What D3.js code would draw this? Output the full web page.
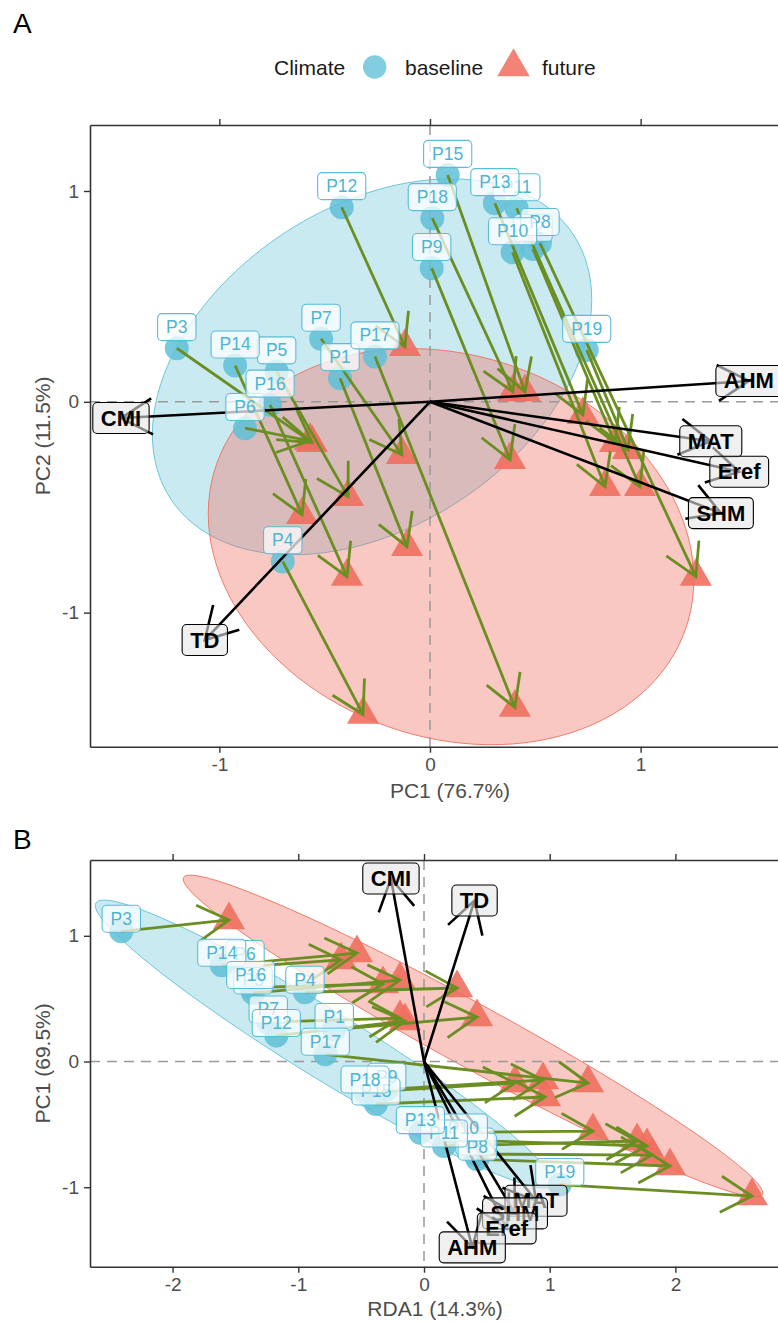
<!DOCTYPE html>
<html>
<head>
<meta charset="utf-8">
<script src="https://cdn.jsdelivr.net/npm/d3@7"></script>
<style>
body { margin: 0; background: #fff; }
text { font-family: "Liberation Sans", Arial, sans-serif; }
</style>
</head>
<body>
<svg id="fig" width="778" height="1323"></svg>
<script>
// site names, same order in both panels
const sites = ["P1","P2","P3","P4","P5","P6","P7","P8","P9","P10",
               "P11","P12","P13","P14","P15","P16","P17","P18","P19"];
const climates = ["baseline", "future"];

// panel A : PCA scores
const pcaBaseX = [-0.427,0.489,-1.202,-0.699,-0.728,-0.878,-0.517,0.522,0.008,0.392,0.411,-0.419,0.308,-0.925,0.084,-0.759,-0.261,0.011,0.744];
const pcaBaseY = [0.112,0.725,0.254,-0.757,0.144,-0.125,0.299,0.753,0.634,0.709,0.918,0.923,0.942,0.172,1.076,-0.014,0.215,0.871,0.246];
const pcaFutX  = [-0.109,0.878,-0.560,-0.318,-0.389,-0.570,-0.133,1.262,0.380,0.831,0.997,-0.119,0.726,-0.607,0.451,-0.394,0.403,0.394,0.940];
const pcaFutY  = [-0.687,-0.194,-0.194,-1.483,-0.450,-0.185,-0.251,-0.829,-0.275,-0.403,-0.403,0.261,-0.062,-0.536,0.047,-0.829,-1.450,0.047,-0.227];
// panel A : loadings
const pcaVars  = ["MAT","SHM","Eref","AHM","CMI","TD"];
const pcaLoadX = [1.333,1.381,1.468,1.514,-1.467,-1.069];
const pcaLoadY = [-0.187,-0.528,-0.332,0.099,-0.077,-1.130];
// panel A : 95% ellipses (baseline, future)
const pcaEllCx = [-0.275,0.100], pcaEllCy = [0.166,-0.687];
const pcaEllA  = [1.143,1.180],  pcaEllB  = [0.759,0.905];
const pcaEllAngle = [33.2,-19.5];

// panel B : RDA scores
const rdaBaseX = [-0.714,0.406,-2.408,-0.947,-1.360,-1.424,-1.239,0.424,-0.297,0.313,0.159,-1.175,-0.029,-1.609,-0.382,-1.379,-0.785,-0.469,1.080];
const rdaBaseY = [0.254,-0.736,1.036,0.551,0.545,0.755,0.314,-0.778,-0.221,-0.625,-0.672,0.206,-0.566,0.765,-0.338,0.588,0.057,-0.243,-0.979];
const rdaFutX  = [0.422,1.814,-1.551,0.263,-0.191,-0.660,-0.191,1.957,0.947,1.774,1.695,-0.151,1.344,-0.533,0.963,-0.326,1.305,0.724,2.609];
const rdaFutY  = [0.354,-0.744,1.126,0.585,0.648,0.808,0.346,-0.831,-0.147,-0.672,-0.632,0.322,-0.553,0.863,-0.282,0.617,-0.171,-0.171,-1.070];
const rdaVars  = ["MAT","SHM","Eref","AHM","CMI","TD"];
const rdaLoadX = [0.891,0.724,0.658,0.384,-0.263,0.402];
const rdaLoadY = [-1.107,-1.208,-1.327,-1.478,1.456,1.281];
const rdaEllCx = [-0.792,0.390], rdaEllCy = [0.139,0.203];
const rdaEllA  = [2.136,2.625],  rdaEllB  = [0.267,0.250];
const rdaEllAngle = [-31.7,-28.7];

const colBase = "#5FBFD7", colFut = "#EE6F5F", colArrow = "#6B8E23";
const svg = d3.select("#fig");

function ellipsePts(cx, cy, a, b, angle) {
  const r = angle * Math.PI / 180;
  return d3.range(0, 121).map(i => {
    const t = i / 120 * 2 * Math.PI;
    const ex = a * Math.cos(t), ey = b * Math.sin(t);
    return [cx + ex * Math.cos(r) - ey * Math.sin(r), cy + ex * Math.sin(r) + ey * Math.cos(r)];
  });
}

// open arrow like grid::arrow()
function arrowPath(x1, y1, x2, y2) {
  const L = 36, ang = 30 * Math.PI / 180;
  const th = Math.atan2(y2 - y1, x2 - x1);
  const a1 = th + Math.PI - ang, a2 = th + Math.PI + ang;
  return `M${x1},${y1}L${x2},${y2}M${x2 + L*Math.cos(a1)},${y2 + L*Math.sin(a1)}L${x2},${y2}L${x2 + L*Math.cos(a2)},${y2 + L*Math.sin(a2)}`;
}

function addLabel(g, px, py, txt, o) {
  const lg = g.append("g");
  const t = lg.append("text")
    .attr("x", px).attr("y", py)
    .attr("text-anchor", "middle")
    .attr("dominant-baseline", "central")
    .style("font-size", o.size + "px")
    .style("font-weight", o.bold ? "bold" : "normal")
    .attr("fill", o.color)
    .text(txt);
  const w = t.node().getComputedTextLength() + 2 * o.pad;
  lg.insert("rect", "text")
    .attr("x", px - w / 2).attr("y", py - o.h / 2)
    .attr("width", w).attr("height", o.h)
    .attr("rx", 4.5)
    .attr("fill", o.fill).attr("fill-opacity", o.fillOp)
    .attr("stroke", o.stroke).attr("stroke-width", 1.1);
}

function drawPanel(p) {
  const x = d3.scaleLinear().domain(p.xDom).range([p.left, p.right]);
  const y = d3.scaleLinear().domain(p.yDom).range([p.bottom, p.top]);
  const clipId = "clip" + p.tag;
  svg.append("clipPath").attr("id", clipId)
    .append("rect").attr("x", p.left).attr("y", p.top)
    .attr("width", p.right - p.left).attr("height", p.bottom - p.top);
  const g = svg.append("g").attr("clip-path", `url(#${clipId})`);
  const line = d3.line().x(d => x(d[0])).y(d => y(d[1])).curve(d3.curveLinearClosed);

  // ellipses
  const ellCols = [colBase, colFut], ellOp = [0.33, 0.38];
  climates.forEach((c, i) => {
    g.append("path")
      .attr("d", line(ellipsePts(p.ell.cx[i], p.ell.cy[i], p.ell.a[i], p.ell.b[i], p.ell.angle[i])))
      .attr("fill", ellCols[i]).attr("fill-opacity", ellOp[i])
      .attr("stroke", ellCols[i]).attr("stroke-width", 0.9);
  });

  // zero lines
  g.append("line").attr("x1", p.left).attr("x2", p.right).attr("y1", y(0)).attr("y2", y(0))
    .attr("stroke", "#999").attr("stroke-width", 1.5).attr("stroke-dasharray", "10,7");
  g.append("line").attr("x1", x(0)).attr("x2", x(0)).attr("y1", p.top).attr("y2", p.bottom)
    .attr("stroke", "#999").attr("stroke-width", 1.5).attr("stroke-dasharray", "10,7");

  // baseline points
  g.selectAll(".base").data(sites).enter().append("circle")
    .attr("cx", (d, i) => x(p.bx[i])).attr("cy", (d, i) => y(p.by[i]))
    .attr("r", 12).attr("fill", colBase).attr("fill-opacity", 0.85);

  // future points (R pch 17 triangle)
  const r = 18.5;
  g.selectAll(".fut").data(sites).enter().append("path")
    .attr("d", (d, i) => {
      const cx = x(p.fx[i]), cy = y(p.fy[i]);
      return `M${cx},${cy - r}L${cx + r * Math.sqrt(3) / 2},${cy + r / 2}L${cx - r * Math.sqrt(3) / 2},${cy + r / 2}Z`;
    })
    .attr("fill", colFut).attr("fill-opacity", 0.9);

  // shift arrows
  g.selectAll(".shift").data(sites).enter().append("path")
    .attr("d", (d, i) => arrowPath(x(p.bx[i]), y(p.by[i]), x(p.fx[i]), y(p.fy[i])))
    .attr("fill", "none").attr("stroke", colArrow).attr("stroke-width", 2.8);

  // loading arrows
  g.selectAll(".load").data(p.vars).enter().append("path")
    .attr("d", (d, i) => arrowPath(x(0), y(0), x(p.lx[i]), y(p.ly[i])))
    .attr("fill", "none").attr("stroke", "#000").attr("stroke-width", 2.6);

  // site labels, nudged up by 0.1
  const lab = svg.append("g");
  sites.forEach((s, i) => addLabel(lab, x(p.bx[i]), y(p.by[i] + 0.1), s,
    {size: 17.5, bold: false, color: "#4DB5D1", pad: 8.5, h: 27, fill: "#fff", fillOp: 0.72, stroke: "#5BBCD6"}));
  // variable labels
  p.vars.forEach((v, i) => addLabel(lab, x(p.lx[i]), y(p.ly[i]), v,
    {size: 22, bold: true, color: "#000", pad: 8, h: 31, fill: "#E6E6E6", fillOp: 0.6, stroke: "#000"}));

  // axes
  const fmt = d => String(d);
  const axB = svg.append("g").attr("transform", `translate(0,${p.bottom})`)
    .call(d3.axisBottom(x).tickValues(p.xTicks).tickSize(6).tickSizeOuter(0).tickPadding(5).tickFormat(fmt));
  const axT = svg.append("g").attr("transform", `translate(0,${p.top})`)
    .call(d3.axisTop(x).tickValues(p.xTicks).tickSize(6).tickSizeOuter(0).tickFormat(""));
  const axL = svg.append("g").attr("transform", `translate(${p.left},0)`)
    .call(d3.axisLeft(y).tickValues(p.yTicks).tickSize(6).tickSizeOuter(0).tickPadding(5).tickFormat(fmt));
  [axB, axT, axL].forEach(a => {
    a.select(".domain").attr("stroke", "#333").attr("stroke-width", 1.6);
    a.selectAll(".tick line").attr("stroke", "#333").attr("stroke-width", 1.4);
    a.selectAll(".tick text").attr("fill", "#4D4D4D").style("font-size", "19px")
      .style("font-family", "'Liberation Sans', Arial, sans-serif");
  });

  svg.append("text").attr("x", p.xTitleX).attr("y", p.xTitleY)
    .attr("text-anchor", "middle").attr("fill", "#4D4D4D").style("font-size", "21px").text(p.xTitle);
  svg.append("text").attr("transform", `translate(50,${(p.top + p.bottom) / 2}) rotate(-90)`)
    .attr("text-anchor", "middle").attr("fill", "#4D4D4D").style("font-size", "21px").text(p.yTitle);
  svg.append("text").attr("x", 13).attr("y", p.tagY)
    .style("font-size", "28px").attr("fill", "#000").text(p.tag);
}

drawPanel({
  tag: "A", tagY: 33,
  left: 90, right: 810, top: 125, bottom: 746.7,
  xDom: [-1.614, 1.804], yDom: [-1.636, 1.313],
  xTicks: [-1, 0, 1], yTicks: [-1, 0, 1],
  bx: pcaBaseX, by: pcaBaseY, fx: pcaFutX, fy: pcaFutY,
  vars: pcaVars, lx: pcaLoadX, ly: pcaLoadY,
  ell: {cx: pcaEllCx, cy: pcaEllCy, a: pcaEllA, b: pcaEllB, angle: pcaEllAngle},
  xTitle: "PC1 (76.7%)", yTitle: "PC2 (11.5%)", xTitleX: 450, xTitleY: 798
});

drawPanel({
  tag: "B", tagY: 849,
  left: 90, right: 780, top: 860, bottom: 1266.7,
  xDom: [-2.657, 2.832], yDom: [-1.632, 1.603],
  xTicks: [-2, -1, 0, 1, 2], yTicks: [-1, 0, 1],
  bx: rdaBaseX, by: rdaBaseY, fx: rdaFutX, fy: rdaFutY,
  vars: rdaVars, lx: rdaLoadX, ly: rdaLoadY,
  ell: {cx: rdaEllCx, cy: rdaEllCy, a: rdaEllA, b: rdaEllB, angle: rdaEllAngle},
  xTitle: "RDA1 (14.3%)", yTitle: "PC1 (69.5%)", xTitleX: 435, xTitleY: 1316
});

// legend
const leg = svg.append("g");
leg.append("text").attr("x", 274).attr("y", 74.5).style("font-size", "21px").attr("fill", "#1a1a1a").text("Climate");
leg.append("circle").attr("cx", 374.7).attr("cy", 67).attr("r", 11.7).attr("fill", colBase).attr("fill-opacity", 0.78);
leg.append("text").attr("x", 405).attr("y", 74.5).style("font-size", "21px").attr("fill", "#1a1a1a").text(climates[0]);
const tr = 18.7, tx = 513.5, ty = 67;
leg.append("path")
  .attr("d", `M${tx},${ty - tr}L${tx + tr * Math.sqrt(3) / 2},${ty + tr / 2}L${tx - tr * Math.sqrt(3) / 2},${ty + tr / 2}Z`)
  .attr("fill", colFut).attr("fill-opacity", 0.85);
leg.append("text").attr("x", 542).attr("y", 74.5).style("font-size", "21px").attr("fill", "#1a1a1a").text(climates[1]);
</script>
</body>
</html>
